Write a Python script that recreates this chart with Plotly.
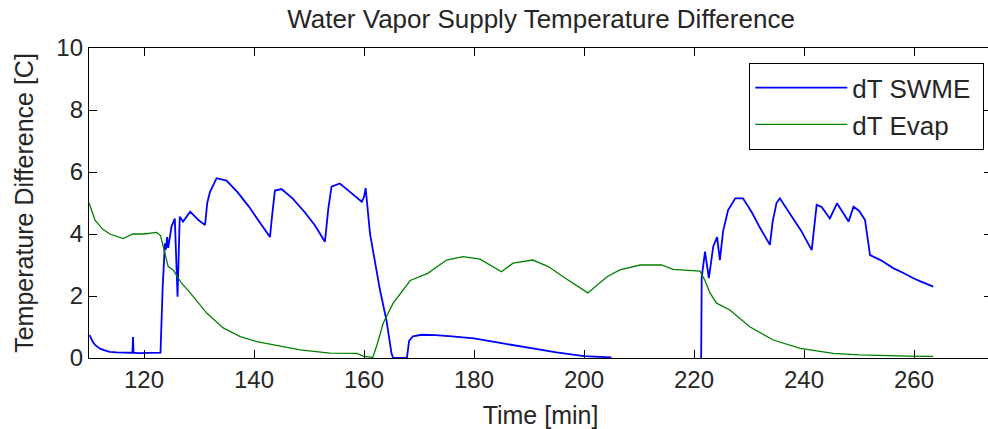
import plotly.graph_objects as go

# SWME temperature difference (blue)
swme_t = [110.1, 110.6, 111.1, 112.0, 113.0, 113.8, 115.0, 116.5, 117.9, 118.0, 118.1, 119.0, 120.5, 122.0, 123.0,
          123.4, 123.8, 124.0, 124.2, 124.4, 125.0, 125.6, 126.1, 126.5, 127.1, 128.4, 129.9, 131.1, 131.5, 132.0,
          133.2, 135.0, 137.0, 139.0, 141.0, 142.9, 143.3, 143.8, 145.0, 147.0, 149.0, 151.0, 152.9, 153.5, 154.1,
          155.6, 157.5, 159.6, 160.0, 160.3, 161.1, 162.0, 162.9, 164.1, 165.0, 165.3, 167.0, 167.8, 168.2, 168.9,
          170.5, 173.0, 176.0, 180.0, 185.0, 190.0, 195.0, 200.0, 202.5, 205.0,
          205.1,
          221.3, 221.4, 222.0, 222.7, 223.5, 224.2, 224.7, 225.3, 226.2, 227.5, 228.9, 230.5, 232.0, 233.8, 234.3,
          235.0, 235.6, 237.5, 239.5, 241.4, 241.9, 242.3, 243.2, 244.7, 246.0, 248.1, 249.0, 250.0, 251.1, 251.6,
          252.0, 254.0, 256.2, 258.0, 259.8, 261.5, 263.5]
swme_dt = [0.74, 0.55, 0.42, 0.30, 0.24, 0.20, 0.18, 0.17, 0.17, 0.68, 0.17, 0.16, 0.16, 0.15, 0.17,
           2.30, 3.70, 3.50, 3.90, 3.55, 4.24, 4.50, 1.98, 4.56, 4.40, 4.72, 4.45, 4.29, 5.00, 5.36,
           5.80, 5.72, 5.35, 4.90, 4.40, 3.90, 4.60, 5.40, 5.45, 5.15, 4.75, 4.30, 3.75, 4.80, 5.53,
           5.63, 5.35, 5.04, 5.20, 5.48, 4.00, 3.10, 2.20, 1.20, 0.15, 0.00, 0.00, 0.00, 0.55, 0.70,
           0.75, 0.74, 0.70, 0.63, 0.48, 0.33, 0.18, 0.06, 0.03, 0.02,
           None,
           0.00, 2.60, 3.43, 2.58, 3.60, 3.90, 3.16, 4.10, 4.77, 5.15, 5.15, 4.70, 4.20, 3.65, 4.40,
           5.00, 5.15, 4.65, 4.10, 3.48, 4.30, 4.94, 4.87, 4.50, 4.99, 4.40, 4.88, 4.75, 4.45, 3.80,
           3.32, 3.15, 2.90, 2.75, 2.58, 2.45, 2.30]

# Evaporator temperature difference (green)
evap_t = [110.0, 111.1, 112.5, 113.8, 116.2, 117.0, 118.0, 120.0, 122.3, 123.0, 123.5, 124.4, 125.3, 126.8,
          128.4, 131.4, 134.4, 137.5, 140.5, 145.3, 148.4, 153.8, 158.7, 160.0, 161.6, 162.5, 163.5, 165.3, 168.4,
          171.6, 175.0, 178.0, 181.1, 185.0, 187.1, 190.7, 193.5, 196.2, 200.7, 204.2, 206.5, 210.2, 214.1,
          216.2, 221.1, 222.0, 222.9, 224.1, 226.5, 230.2, 234.4, 239.3, 245.3, 250.0, 255.0, 259.0, 263.5]
evap_dt = [5.00, 4.45, 4.15, 4.00, 3.85, 3.92, 4.00, 4.00, 4.05, 3.95, 3.60, 2.95, 2.84, 2.42,
           2.10, 1.45, 0.97, 0.69, 0.53, 0.36, 0.26, 0.16, 0.15, 0.05, 0.02, 0.50, 1.13, 1.77, 2.50,
           2.73, 3.16, 3.27, 3.19, 2.78, 3.06, 3.16, 2.95, 2.62, 2.10, 2.62, 2.84, 3.00, 3.00,
           2.86, 2.80, 2.50, 2.10, 1.77, 1.55, 1.00, 0.58, 0.31, 0.15, 0.10, 0.07, 0.06, 0.05]

x_ticks = [120, 140, 160, 180, 200, 220, 240, 260]
y_ticks = [0, 2, 4, 6, 8, 10]

FONT = "Liberation Sans, Arial, sans-serif"
TXT = "#262626"

fig = go.Figure()
fig.add_trace(go.Scatter(x=swme_t, y=swme_dt, mode="lines", name="dT SWME\u00a0",
                         line=dict(color="#0000ff", width=1.8), connectgaps=False))
fig.add_trace(go.Scatter(x=evap_t, y=evap_dt, mode="lines", name="dT Evap",
                         line=dict(color="#008000", width=1.3)))

axis_common = dict(showline=True, linecolor="black", linewidth=1.3, mirror="ticks",
                   ticks="inside", ticklen=8, tickcolor="black", showgrid=False, zeroline=False,
                   automargin=False, tickfont=dict(family=FONT, size=24, color=TXT))

# figure slightly wider than the window so the right frame line falls just outside, as in the reference
fig.update_layout(
    width=992, height=429,
    paper_bgcolor="white", plot_bgcolor="white",
    margin=dict(l=89, r=0, t=48, b=71),
    title=dict(text="Water Vapor Supply Temperature Difference", x=541 / 992, xanchor="center",
               xref="container", y=0.957, yanchor="middle", yref="container",
               font=dict(family=FONT, size=26, color=TXT)),
    xaxis=dict(range=[110, 274.18], tickvals=x_ticks,
               title=dict(text="Time [min]", font=dict(family=FONT, size=25, color=TXT)),
               **axis_common),
    yaxis=dict(range=[0, 10], tickvals=y_ticks,
               title=dict(text="Temperature Difference [C]", font=dict(family=FONT, size=25, color=TXT)),
               **axis_common),
    legend=dict(x=(749 - 89) / 903, y=0.952, xanchor="left", yanchor="top",
                bgcolor="white", bordercolor="black", borderwidth=1.3,
                font=dict(family=FONT, size=26, color=TXT), itemwidth=92,
                tracegroupgap=0),
    showlegend=True,
)

fig.write_html("out.html", config={"displayModeBar": False},
               post_script="document.body.style.margin='0px';document.body.style.overflow='hidden';")
